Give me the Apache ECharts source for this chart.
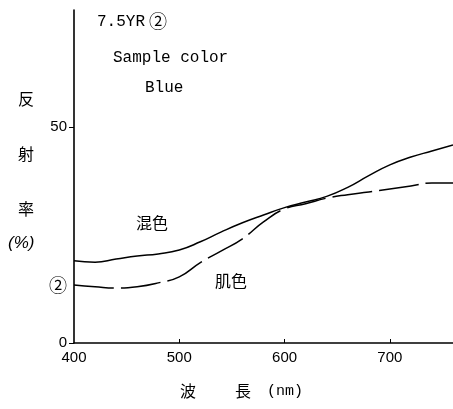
<!DOCTYPE html>
<html>
<head>
<meta charset="utf-8">
<script src="https://cdn.jsdelivr.net/npm/echarts@6/dist/echarts.min.js"></script>
<style>
  html, body { margin: 0; padding: 0; background: #fff; }
  #chart { width: 453px; height: 409px; }
</style>
</head>
<body>
<div id="chart"></div>
<script>
// wavelength (nm)
const wavelength = [400, 420, 440, 460, 480, 500, 520, 540, 560, 580, 600, 620, 640, 660, 680, 700, 720, 740, 760];
// 混色 (solid)
const mixed = [19.0, 18.7, 19.4, 20.1, 20.6, 21.5, 23.4, 25.7, 27.8, 29.6, 31.3, 32.6, 33.9, 36.0, 38.7, 41.2, 43.0, 44.4, 45.8];
// 肌色 (dashed)
const skin = [13.4, 13.0, 12.7, 13.0, 13.9, 15.3, 18.6, 21.3, 24.1, 28.0, 31.0, 32.2, 33.5, 34.3, 34.9, 35.6, 36.3, 37.0, 37.0];

const xTicks = [400, 500, 600, 700];
const yTicks = [0, 50];
const yMarkValue = 13.4;   // ② on the axis
const yMarkLabel = '②';

const ink = '#000';
const sans = '"Liberation Sans", Arial, sans-serif';
const mono = '"Liberation Mono", "DejaVu Sans Mono", monospace';
const cjk = '"Noto Sans CJK JP", sans-serif';

const chart = echarts.init(document.getElementById('chart'));

chart.setOption({
    animation: false,
    grid: { left: 74, right: 0, top: 10, bottom: 66 },
    xAxis: {
        type: 'value',
        min: 400,
        max: 760,
        splitLine: { show: false },
        axisLine: { lineStyle: { color: ink, width: 1.6 } },
        axisTick: { inside: true, length: 4, customValues: xTicks.slice(1), lineStyle: { color: ink } },
        axisLabel: { customValues: xTicks, color: ink, fontFamily: sans, fontSize: 15, margin: 7 }
    },
    yAxis: {
        type: 'value',
        min: 0,
        max: 77,
        splitLine: { show: false },
        axisLine: { show: true, lineStyle: { color: ink, width: 1.6 } },
        axisTick: { show: true, length: 5, customValues: yTicks, lineStyle: { color: ink } },
        axisLabel: {
            customValues: yTicks.concat([yMarkValue]),
            formatter: v => (v === yMarkValue ? '{m|' + yMarkLabel + '}' : String(v)),
            rich: { m: { fontFamily: cjk, fontSize: 18, color: ink } },
            color: ink, fontFamily: sans, fontSize: 15, margin: 7
        }
    },
    series: [{
        name: '混色',
        type: 'line',
        smooth: true,
        showSymbol: false,
        data: wavelength.map((w, i) => [w, mixed[i]]),
        lineStyle: { color: ink, width: 1.5 }
    }, {
        name: '肌色',
        type: 'line',
        smooth: true,
        showSymbol: false,
        data: wavelength.map((w, i) => [w, skin[i]]),
        lineStyle: { color: ink, width: 1.5, type: [40, 7] }
    }],
    graphic: [
        { type: 'text', left: 97, top: 14, style: { text: '7.5YR', font: '16px ' + mono, fill: ink } },
        { type: 'text', left: 149, top: 12, style: { text: '②', font: '18px ' + cjk, fill: ink } },
        { type: 'text', left: 113, top: 50, style: { text: 'Sample color', font: '16px ' + mono, fill: ink } },
        { type: 'text', left: 145, top: 80, style: { text: 'Blue', font: '16px ' + mono, fill: ink } },
        { type: 'text', left: 18, top: 91, style: { text: '反', font: '16px ' + cjk, fill: ink } },
        { type: 'text', left: 18, top: 146, style: { text: '射', font: '16px ' + cjk, fill: ink } },
        { type: 'text', left: 18, top: 201, style: { text: '率', font: '16px ' + cjk, fill: ink } },
        { type: 'text', left: 8, top: 235, style: { text: '(%)', font: 'italic 17px ' + sans, fill: ink } },
        { type: 'text', left: 136, top: 215, style: { text: '混色', font: '16px ' + cjk, fill: ink } },
        { type: 'text', left: 215, top: 273, style: { text: '肌色', font: '16px ' + cjk, fill: ink } },
        { type: 'text', left: 180, top: 383, style: { text: '波', font: '16px ' + cjk, fill: ink } },
        { type: 'text', left: 235, top: 383, style: { text: '長', font: '16px ' + cjk, fill: ink } },
        { type: 'text', left: 267, top: 384, style: { text: '(nm)', font: '15px ' + mono, fill: ink } }
    ]
});
</script>
</body>
</html>
